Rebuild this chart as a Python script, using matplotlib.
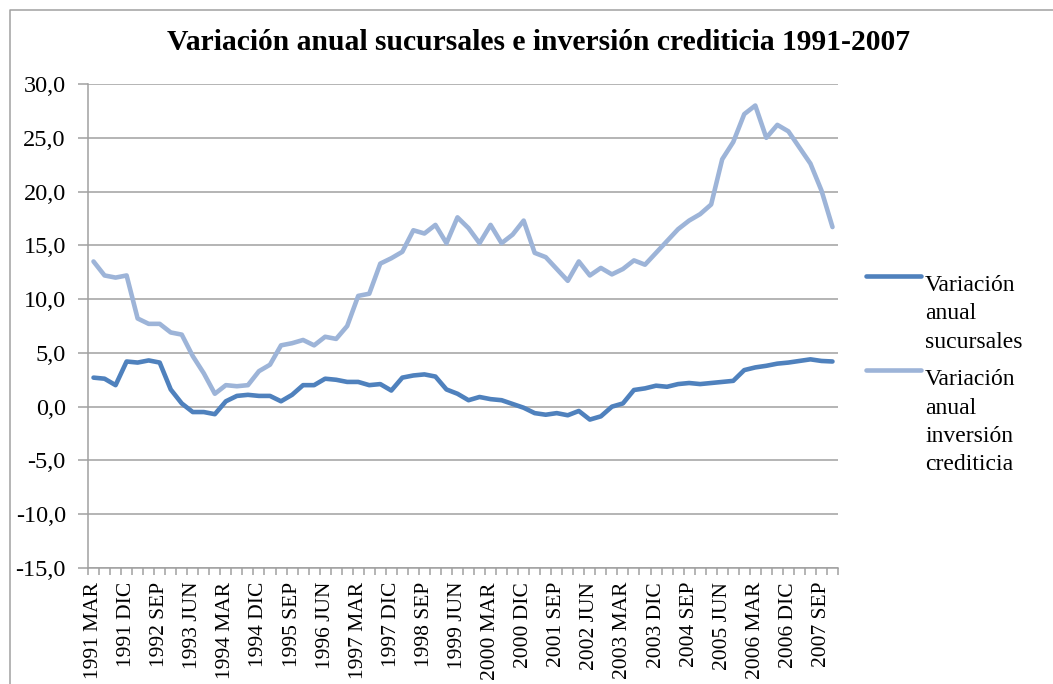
#!/usr/bin/env python3
"""Variación anual sucursales e inversión crediticia 1991-2007 (quarterly)."""

import matplotlib

matplotlib.use("Agg")
import matplotlib.pyplot as plt
from matplotlib.lines import Line2D
from matplotlib.ticker import FuncFormatter, MultipleLocator

plt.rcParams["font.family"] = ["Liberation Serif", "DejaVu Serif"]

MONTHS = ["MAR", "JUN", "SEP", "DIC"]
quarters = [f"{y} {m}" for y in range(1991, 2008) for m in MONTHS]

# annual change in number of branches (%)
sucursales = [
    2.7, 2.6, 2.0, 4.2, 4.1, 4.3, 4.1, 1.6, 0.3, -0.5,
    -0.5, -0.7, 0.5, 1.0, 1.1, 1.0, 1.0, 0.5, 1.1, 2.0,
    2.0, 2.6, 2.5, 2.3, 2.3, 2.0, 2.1, 1.5, 2.7, 2.9,
    3.0, 2.8, 1.6, 1.2, 0.6, 0.9, 0.7, 0.6, 0.25, -0.1,
    -0.6, -0.75, -0.6, -0.8, -0.4, -1.2, -0.9, 0.0, 0.3, 1.55,
    1.7, 1.95, 1.85, 2.1, 2.2, 2.1, 2.2, 2.3, 2.4, 3.4,
    3.65, 3.8, 4.0, 4.1, 4.25, 4.4, 4.25, 4.2,
]

# annual change in credit investment (%)
inversion = [
    13.5, 12.2, 12.0, 12.2, 8.2, 7.7, 7.7, 6.9, 6.7, 4.7,
    3.1, 1.2, 2.0, 1.9, 2.0, 3.3, 3.9, 5.7, 5.9, 6.2,
    5.7, 6.5, 6.3, 7.5, 10.3, 10.5, 13.3, 13.8, 14.4, 16.4,
    16.1, 16.9, 15.2, 17.6, 16.6, 15.2, 16.9, 15.2, 16.0, 17.3,
    14.3, 13.9, 12.8, 11.7, 13.5, 12.2, 12.9, 12.3, 12.8, 13.6,
    13.2, 14.3, 15.4, 16.5, 17.3, 17.9, 18.8, 23.0, 24.6, 27.2,
    28.0, 25.0, 26.2, 25.6, 24.1, 22.6, 20.1, 16.7,
]

tick_labels = quarters[::3]

DARK = "#4F81BD"
LIGHT = "#9DB4D8"
GRID = "#A0A0A0"
LW = 3.3

W, H = 1053, 684
fig = plt.figure(figsize=(W / 100, H / 100), dpi=100)
ax = fig.add_axes([88 / W, 1 - 568 / H, 750 / W, 484 / H])

x = list(range(len(quarters)))
ax.plot(x, sucursales, color=DARK, lw=LW, solid_joinstyle="round", solid_capstyle="round", zorder=3)
ax.plot(x, inversion, color=LIGHT, lw=LW, solid_joinstyle="round", solid_capstyle="round", zorder=3)

ax.set_xlim(-0.5, len(quarters) - 0.5)
ax.set_ylim(-15, 30)
ax.yaxis.set_major_locator(MultipleLocator(5))
ax.yaxis.set_major_formatter(FuncFormatter(lambda v, _: f"{v:.1f}".replace(".", ",")))
ax.grid(axis="y", color=GRID, lw=1.1)
ax.set_axisbelow(True)

ax.set_xticks(x[::3])
ax.set_xticklabels(tick_labels, rotation=90, fontsize=15.5)
ax.set_xticks([i - 0.5 for i in range(len(quarters) + 1)], minor=True)
ax.tick_params(axis="x", which="major", length=0, pad=10)
ax.tick_params(axis="x", which="minor", length=5, width=1.1, color=GRID)
ax.tick_params(axis="y", length=7, width=1.1, color=GRID, labelsize=17.5, pad=9)

for side in ("top", "right"):
    ax.spines[side].set_visible(False)
for side in ("left", "bottom"):
    ax.spines[side].set_color(GRID)
    ax.spines[side].set_linewidth(1.1)

fig.text(539 / W, 1 - 42 / H, "Variación anual sucursales e inversión crediticia 1991-2007",
         ha="center", va="center", fontsize=21.3, fontweight="bold")

# legend drawn by hand so the key sits beside the first text line, as in Excel
legend = [
    (DARK, ["Variación", "anual", "sucursales"], 276, 291),
    (LIGHT, ["Variación", "anual", "inversión", "crediticia"], 370, 385),
]
for color, lines, key_y, base_y in legend:
    yf = 1 - key_y / H
    fig.add_artist(Line2D([866 / W, 921 / W], [yf, yf], color=color, lw=LW,
                          solid_capstyle="round", transform=fig.transFigure))
    for k, line in enumerate(lines):
        fig.text(925 / W, 1 - (base_y + 28.5 * k) / H, line, ha="left", va="baseline",
                 fontsize=17)

# chart border (top and left edges visible)
fig.add_artist(Line2D([10 / W, 10 / W, 1.0], [0.0, 1 - 10 / H, 1 - 10 / H],
                      color=GRID, lw=1.1, transform=fig.transFigure))

fig.savefig("out.png", dpi=100)
